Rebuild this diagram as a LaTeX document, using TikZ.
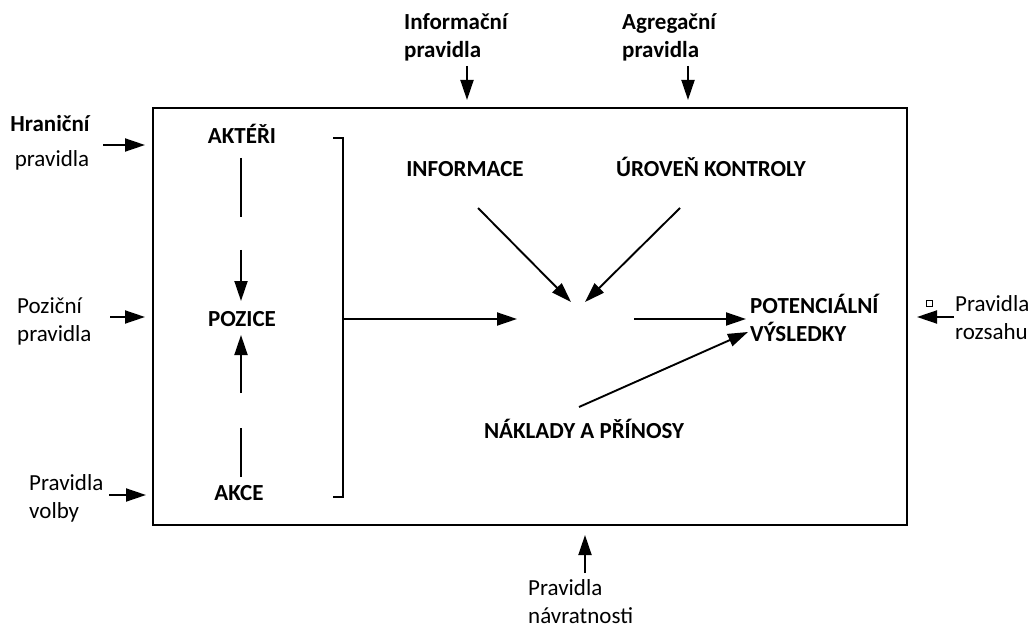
\documentclass[tikz,border=0pt]{standalone}
\usepackage{fontspec}
\setmainfont{Carlito}
\usetikzlibrary{arrows.meta}
\begin{document}
\begin{tikzpicture}[x=1pt,y=-1pt,
  txt/.style={inner sep=0pt,font=\fontsize{23}{28}\selectfont},
  btxt/.style={inner sep=0pt,font=\fontsize{23}{28}\selectfont\bfseries},
  frame/.style={line width=2.8pt},
  arr/.style={line width=1.9pt,-{Triangle[length=20pt,width=13pt]}},
  ln/.style={line width=1.9pt}]
\useasboundingbox (0,0) rectangle (1030,628);
% main frame
\draw[frame] (153,108) rectangle (907,525);
% ---- left side rules
\node[btxt] (hr1) at (50,124) {Hraniční};
\node[txt] (hr2) at (52,160) {pravidla};
\coordinate (hrS) at (103,145); \coordinate (hrE) at (145,145);
\draw[arr] (hrS) -- (hrE);
\node[txt,align=left,anchor=west] (poz) at (17,321) {Poziční\\pravidla};
\coordinate (pzS) at (110,317); \coordinate (pzE) at (145,317);
\draw[arr] (pzS) -- (pzE);
\node[txt,align=left,anchor=west] (vol) at (29,498) {Pravidla\\volby};
\coordinate (vbS) at (109,495); \coordinate (vbE) at (146,495);
\draw[arr] (vbS) -- (vbE);
% ---- top rules
\node[btxt,align=left,anchor=west] (inf) at (404,37) {Informační\\pravidla};
\coordinate (ifS) at (467,66); \coordinate (ifE) at (467,100);
\draw[arr] (ifS) -- (ifE);
\node[btxt,align=left,anchor=west] (agr) at (622,37) {Agregační\\pravidla};
\coordinate (agS) at (688,66); \coordinate (agE) at (688,100);
\draw[arr] (agS) -- (agE);
% ---- right rule
\node[txt,align=left,anchor=west] (roz) at (955,318) {Pravidla\\rozsahu};
\node[draw,line width=0.7pt,minimum size=6pt,inner sep=0pt] (sq) at (929,303) {};
\coordinate (rzS) at (954,317); \coordinate (rzE) at (917,317);
\draw[arr] (rzS) -- (rzE);
% ---- bottom rule
\node[txt,align=left,anchor=west] (nav) at (528,602) {Pravidla\\návratnosti};
\coordinate (nvS) at (585,573); \coordinate (nvE) at (585,535);
\draw[arr] (nvS) -- (nvE);
% ---- inner column
\node[btxt] (akt) at (242,134) {AKTÉŘI};
\node[btxt] (poz2) at (242,319) {POZICE};
\node[btxt] (akce) at (239,493) {AKCE};
\coordinate (a1) at (241,158); \coordinate (a2) at (241,217);
\coordinate (a3) at (241,250); \coordinate (a4) at (241,301);
\draw[ln] (a1) -- (a2);
\draw[arr] (a3) -- (a4);
\coordinate (b1) at (241,477); \coordinate (b2) at (241,428);
\coordinate (b3) at (241,393); \coordinate (b4) at (241,335);
\draw[ln] (b1) -- (b2);
\draw[arr] (b3) -- (b4);
% bracket
\coordinate (brT) at (333,138); \coordinate (brB) at (333,497);
\coordinate (brM) at (343,319); \coordinate (brE) at (517,319);
\draw[frame] (brT) -| (343,497) -- (brB);
\draw[arr] (brM) -- (brE);
% ---- centre
\node[btxt] (info) at (465,169) {INFORMACE};
\node[btxt] (uro) at (711,167) {ÚROVEŇ KONTROLY};
\node[btxt] (nak) at (584,429) {NÁKLADY A PŘÍNOSY};
\node[btxt,align=left,anchor=west] (pot) at (750,318) {POTENCIÁLNÍ\\VÝSLEDKY};
\coordinate (i1) at (478,208); \coordinate (i2) at (571,302);
\draw[arr] (i1) -- (i2);
\coordinate (u1) at (680,208); \coordinate (u2) at (585,302);
\draw[arr] (u1) -- (u2);
\coordinate (c1) at (634,319); \coordinate (c2) at (746,319);
\draw[arr] (c1) -- (c2);
\coordinate (n1) at (579,407); \coordinate (n2) at (748,332);
\draw[arr] (n1) -- (n2);
\end{tikzpicture}
\end{document}
